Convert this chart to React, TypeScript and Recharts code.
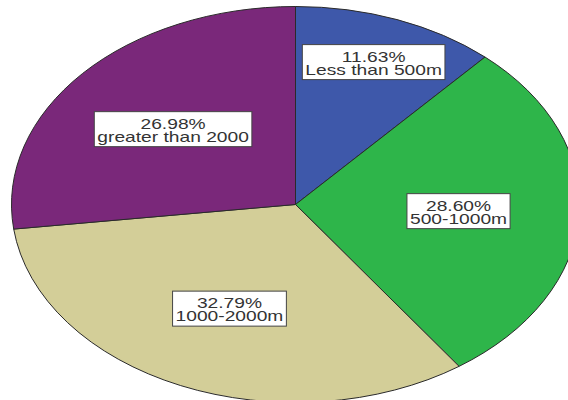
import React from 'react';
import { PieChart, Pie, Cell } from 'recharts';

const categories = ['Less than 500m', '500-1000m', '1000-2000m', 'greater than 2000'];
const percentages = [11.63, 28.6, 32.79, 26.98];
const colors = ['#3E58AA', '#2EB54A', '#D3CE98', '#7A287A'];

const data = categories.map((name, i) => ({ name, value: percentages[i] }));

const W = 568;
const H = 400;
const CX = 295.5;
const CY = 204.5;
const RY = 198;
const RX = 284;
const XS = RX / RY;
const TX = 1.28;
const RAD = Math.PI / 180;
const FONT = '15px "Liberation Sans", Arial, sans-serif';

const pt = (cx: number, cy: number, r: number, a: number) => [
  cx + r * XS * Math.cos(-a * RAD),
  cy + r * Math.sin(-a * RAD),
];

let ctx: CanvasRenderingContext2D | null = null;
function measure(t: string) {
  if (!ctx) ctx = document.createElement('canvas').getContext('2d');
  if (!ctx) return t.length * 8;
  ctx.font = FONT;
  return ctx.measureText(t).width;
}

function EllipseSector(props: any) {
  const { cx, cy, outerRadius, startAngle, endAngle, fill } = props;
  const [x1, y1] = pt(cx, cy, outerRadius, startAngle);
  const [x2, y2] = pt(cx, cy, outerRadius, endAngle);
  const sweep = Math.abs(endAngle - startAngle);
  const large = sweep > 180 ? 1 : 0;
  const sweepFlag = startAngle > endAngle ? 1 : 0;
  const d = `M${cx},${cy} L${x1},${y1} A${outerRadius * XS},${outerRadius} 0 ${large} ${sweepFlag} ${x2},${y2} Z`;
  return <path d={d} fill={fill} stroke="#2a2a2a" strokeWidth={1} strokeLinejoin="round" />;
}

function renderLabel(props: any) {
  const { cx, cy, midAngle, outerRadius, percent, name, value } = props;
  const f = percent < 0.2 ? 0.77 : 0.575;
  const [x, y] = pt(cx, cy, outerRadius * f, midAngle);
  const l1 = `${Number(value).toFixed(2)}%`;
  const tw = Math.max(measure(l1), measure(name)) * TX;
  const bw = tw + 6;
  const bh = 35;
  return (
    <g>
      <rect x={x - bw / 2} y={y - 17.5} width={bw} height={bh} fill="#ffffff" stroke="#444444" strokeWidth={1} />
      <g transform={`translate(${x},${y}) scale(${TX},1)`}>
        <text textAnchor="middle" fontFamily='"Liberation Sans", Arial, sans-serif' fontSize={15} fill="#333333">
          <tspan x={0} y={-0.5}>{l1}</tspan>
          <tspan x={0} y={12.8}>{name}</tspan>
        </text>
      </g>
    </g>
  );
}

export default function App() {
  return (
    <div style={{ position: 'absolute', left: 0, top: 0, width: W, height: H, background: '#fff' }}>
      <PieChart width={W} height={H} margin={{ top: 0, right: 0, bottom: 0, left: 0 }}>
        <Pie
          data={data}
          dataKey="value"
          nameKey="name"
          cx={CX}
          cy={CY}
          outerRadius={RY}
          startAngle={90}
          endAngle={-270}
          isAnimationActive={false}
          labelLine={false}
          label={renderLabel}
          shape={EllipseSector}
          stroke="#2a2a2a"
        >
          {data.map((d, i) => (
            <Cell key={d.name} fill={colors[i]} />
          ))}
        </Pie>
      </PieChart>
    </div>
  );
}
